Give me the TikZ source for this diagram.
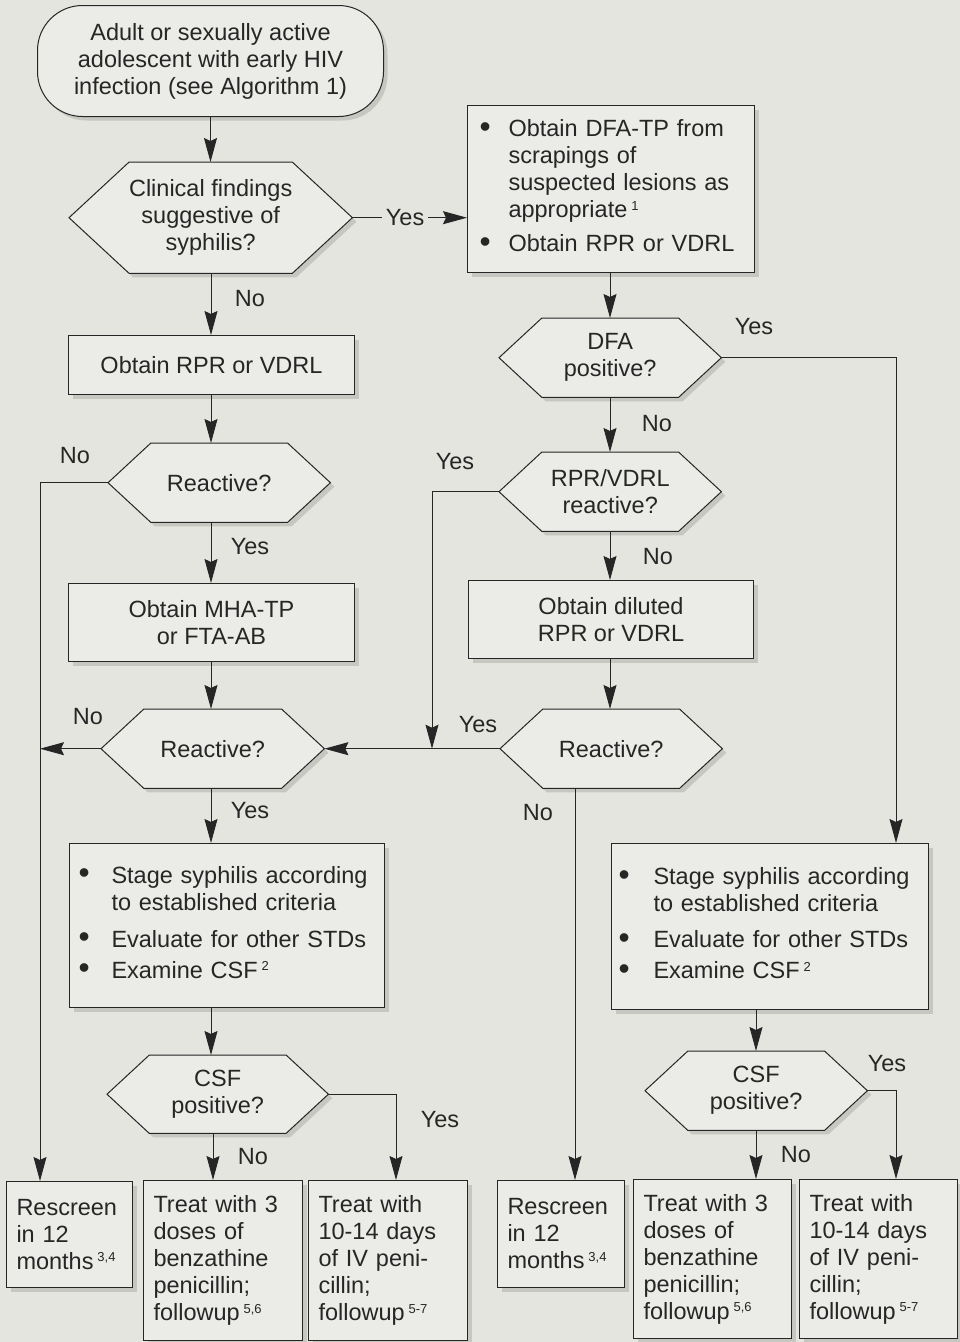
\documentclass[tikz,border=0pt]{standalone}
\usepackage{fontspec}
\setmainfont{Liberation Sans}
\usetikzlibrary{arrows.meta,shadows,calc}
\pgfdeclarelayer{back}
\pgfdeclarelayer{shapes}
\pgfsetlayers{back,shapes,main}
\definecolor{bgc}{RGB}{229,229,223}
\definecolor{boxc}{RGB}{235,235,231}
\definecolor{shadc}{RGB}{170,170,166}
\definecolor{linec}{RGB}{38,38,38}
\newcommand\fs{\fontsize{23.5}{27}\selectfont}
\newcommand\fn[1]{\,{\fontsize{13}{13}\selectfont\raisebox{7.5pt}{#1}}}
\newcommand\dotmark{\raisebox{-0.5pt}{\scalebox{1.35}{\textbullet}}}
\begin{document}
\begin{tikzpicture}[x=1pt,y=-1pt,font=\fs,text=linec,
  softshadow/.style={drop shadow={shadow xshift=4pt,shadow yshift=-4pt,fill=shadc}},
  box/.style={rectangle,draw=linec,fill=boxc,line width=1pt,inner sep=0pt,anchor=north west,softshadow},
  hexarea/.style={rectangle,inner sep=0pt,anchor=north west,align=center},
  hexshape/.style={draw=linec,fill=boxc,line width=1pt,softshadow},
  arr/.style={draw=linec,line width=1pt,-{Stealth[length=24pt,width=13pt,inset=3pt]}},
  lbl/.style={inner sep=0pt}]
\begin{pgfonlayer}{back}
  \fill[bgc] (0,0) rectangle (960,1342);
\end{pgfonlayer}
\useasboundingbox (0,0) rectangle (960,1342);

% ---- left column ----
\node[box,rounded corners=45pt,minimum width=346pt,minimum height=111pt,align=center] (start) at (37,5)
  {Adult or sexually active\\adolescent with early HIV\\infection (see Algorithm 1)};
\node[hexarea,minimum width=283pt,minimum height=111pt] (h1) at (69,162) {Clinical findings\\suggestive of\\syphilis?};
\node[box,minimum width=286pt,minimum height=59pt,align=center] (rpr1) at (68,335) {Obtain RPR or VDRL};
\node[hexarea,minimum width=222pt,minimum height=79pt] (h3) at (108,443) {Reactive?};
\node[box,minimum width=286pt,minimum height=78pt,align=center] (mha) at (68,583) {Obtain MHA-TP\\or FTA-AB};
\node[hexarea,minimum width=223pt,minimum height=79pt] (h5) at (101,709) {Reactive?};
\node[box,minimum width=315pt,minimum height=164pt,text width=297pt,align=left] (stageL) at (69,843)
  {\begin{tabular}{@{}p{33pt}@{}l@{}}
   \dotmark & Stage syphilis according\\
            & to established criteria\\[10pt]
   \dotmark & Evaluate for other STDs\\[4pt]
   \dotmark & Examine CSF\fn{2}
   \end{tabular}};
\node[hexarea,minimum width=221pt,minimum height=78pt] (csfL) at (107,1055) {CSF\\positive?};
\node[box,minimum width=126pt,minimum height=106pt,text width=106pt,align=left] (resL) at (6,1181)
  {Rescreen\\in 12\\months\fn{3,4}};
\node[box,minimum width=159pt,minimum height=160pt,text width=139pt,align=left] (t3L) at (143,1180)
  {Treat with 3\\doses of\\benzathine\\penicillin;\\followup\fn{5,6}};
\node[box,minimum width=159pt,minimum height=160pt,text width=139pt,align=left] (t10L) at (308,1180)
  {Treat with\\10-14 days\\of IV peni-\\cillin;\\followup\fn{5-7}};

% ---- right column ----
\node[box,minimum width=287pt,minimum height=167pt,text width=263pt,align=left] (dfatp) at (467,105)
  {\begin{tabular}{@{}p{29pt}@{}l@{}}
   \dotmark & Obtain DFA-TP from\\
            & scrapings of\\
            & suspected lesions as\\
            & appropriate\fn{1}\\[7pt]
   \dotmark & Obtain RPR or VDRL
   \end{tabular}};
\node[hexarea,minimum width=222pt,minimum height=79pt] (dfa) at (499,318) {DFA\\positive?};
\node[hexarea,minimum width=222pt,minimum height=79pt] (rprR) at (499,452) {RPR/VDRL\\reactive?};
\node[box,minimum width=285pt,minimum height=78pt,align=center] (dil) at (468,580) {Obtain diluted\\RPR or VDRL};
\node[hexarea,minimum width=222pt,minimum height=79pt] (reactR) at (500,709) {Reactive?};
\node[box,minimum width=317pt,minimum height=166pt,text width=303pt,align=left] (stageR) at (611,843)
  {\begin{tabular}{@{}p{35pt}@{}l@{}}
   \dotmark & Stage syphilis according\\
            & to established criteria\\[9pt]
   \dotmark & Evaluate for other STDs\\[4pt]
   \dotmark & Examine CSF\fn{2}
   \end{tabular}};
\node[hexarea,minimum width=222pt,minimum height=79pt] (csfR) at (645,1051) {CSF\\positive?};
\node[box,minimum width=127pt,minimum height=107pt,text width=107pt,align=left] (resR) at (497,1180)
  {Rescreen\\in 12\\months\fn{3,4}};
\node[box,minimum width=158pt,minimum height=159pt,text width=138pt,align=left] (t3R) at (633,1179)
  {Treat with 3\\doses of\\benzathine\\penicillin;\\followup\fn{5,6}};
\node[box,minimum width=158pt,minimum height=159pt,text width=138pt,align=left] (t10R) at (799,1179)
  {Treat with\\10-14 days\\of IV peni-\\cillin;\\followup\fn{5-7}};

% ---- decision hexagons ----
\begin{pgfonlayer}{shapes}
\foreach \h in {h1,h3,h5,csfL,dfa,rprR,reactR,csfR}{
  \path[hexshape] let \p1=(\h.north east), \p2=(\h.south west), \n1={0.54*(\y1-\y2)} in
    (\h.west) -- ({\x2+\n1*1pt},\y1) -- ({\x1-\n1*1pt},\y1) -- (\h.east)
    -- ({\x1-\n1*1pt},\y2) -- ({\x2+\n1*1pt},\y2) -- cycle;
}
\end{pgfonlayer}

% ---- routing lanes ----
\coordinate (laneL) at (40,0);
\coordinate (colL) at (211,0);
\coordinate (colL2) at (213,0);
\coordinate (laneY) at (396,0);
\coordinate (laneM) at (432,0);
\coordinate (laneNo) at (575,0);
\coordinate (colR) at (610,0);
\coordinate (colR2) at (756,0);
\coordinate (laneR) at (896,0);

% ---- connectors, left ----
\draw[arr] (start.south) -- (start.south |- h1.north);
\draw[arr] (h1.east) -- (h1.east -| dfatp.west)
  node[lbl,pos=0.46,fill=bgc,inner xsep=4pt,inner ysep=2pt] (yes1) {Yes};
\draw[arr] (colL |- h1.south) -- (colL |- rpr1.north);
\draw[arr] (colL |- rpr1.south) -- (colL |- h3.north);
\draw[arr] (h3.west) -| (laneL |- resL.north);
\draw[arr] (colL |- h3.south) -- (colL |- mha.north);
\draw[arr] (colL |- mha.south) -- (colL |- h5.north);
\draw[arr] (h5.west) -- (h5.west -| laneL);
\draw[arr] (colL |- h5.south) -- (colL |- stageL.north);
\draw[arr] (colL |- stageL.south) -- (colL |- csfL.north);
\draw[arr] (csfL.east) -| (laneY |- t10L.north);
\draw[arr] (colL2 |- csfL.south) -- (colL2 |- t3L.north);

% ---- connectors, right ----
\draw[arr] (colR |- dfatp.south) -- (colR |- dfa.north);
\draw[arr] (dfa.east) -| (laneR |- stageR.north);
\draw[arr] (colR |- dfa.south) -- (colR |- rprR.north);
\draw[arr] (rprR.west) -| (laneM |- h5.east);
\draw[arr] (colR |- rprR.south) -- (colR |- dil.north);
\draw[arr] (colR |- dil.south) -- (colR |- reactR.north);
\draw[arr] (reactR.west) -- (h5.east);
\draw[arr] (laneNo |- reactR.south) -- (laneNo |- resR.north);
\draw[arr] (colR2 |- stageR.south) -- (colR2 |- csfR.north);
\draw[arr] (csfR.east) -| (laneR |- t10R.north);
\draw[arr] (colR2 |- csfR.south) -- (colR2 |- t3R.north);

% ---- branch labels ----
\node[lbl] (no1) at (250,299) {No};
\node[lbl] (no2) at (75,456) {No};
\node[lbl] (yes2) at (250,547) {Yes};
\node[lbl] (no3) at (88,717) {No};
\node[lbl] (yes3) at (250,811) {Yes};
\node[lbl] (yes4) at (440,1120) {Yes};
\node[lbl] (no4) at (253,1157) {No};
\node[lbl] (yes5) at (754,327) {Yes};
\node[lbl] (no5) at (657,424) {No};
\node[lbl] (yes6) at (455,462) {Yes};
\node[lbl] (no6) at (658,557) {No};
\node[lbl] (yes7) at (478,725) {Yes};
\node[lbl] (no7) at (538,813) {No};
\node[lbl] (yes8) at (887,1064) {Yes};
\node[lbl] (no8) at (796,1155) {No};
\end{tikzpicture}
\end{document}
